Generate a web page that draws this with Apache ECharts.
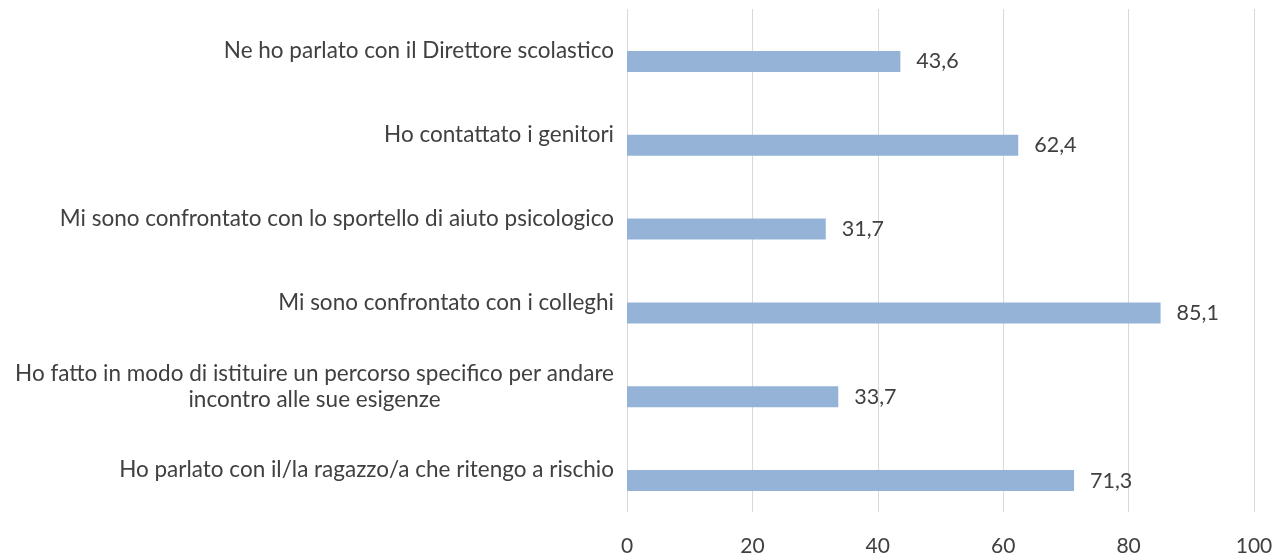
<!DOCTYPE html>
<html>
<head>
<meta charset="utf-8">
<script src="https://cdn.jsdelivr.net/npm/echarts@6/dist/echarts.min.js"></script>
<style>html,body{margin:0;padding:0;background:#fff}#c{width:1276px;height:557px}</style>
</head>
<body>
<div id="c"></div>
<script>
var categories = [
  "Ne ho parlato con il Direttore scolastico",
  "Ho contattato i genitori",
  "Mi sono confrontato con lo sportello di aiuto psicologico",
  "Mi sono confrontato con i colleghi",
  "Ho fatto in modo di istituire un percorso specifico per andare\nincontro alle sue esigenze",
  "Ho parlato con il/la ragazzo/a che ritengo a rischio"
];
var values = [43.6, 62.4, 31.7, 85.1, 33.7, 71.3];
var xTicks = [0, 20, 40, 60, 80, 100];

var chart = echarts.init(document.getElementById('c'));
chart.setOption({
  animation: false,
  textStyle: {fontFamily: 'Lato'},
  grid: {left: 627, right: 22, top: 9, bottom: 45, containLabel: false},
  xAxis: {
    type: 'value', min: xTicks[0], max: xTicks[xTicks.length - 1], interval: 20,
    axisLine: {show: false}, axisTick: {show: false},
    splitLine: {lineStyle: {color: '#d9d9d9', width: 1}},
    axisLabel: {fontSize: 21, color: '#404040', margin: 24, fontFamily: 'Lato'}
  },
  yAxis: {
    type: 'category', data: categories, inverse: true,
    axisLine: {show: false}, axisTick: {show: false},
    axisLabel: {
      fontSize: 22.5, color: '#404040', margin: 13, fontFamily: 'Lato',
      formatter: function (v) {
        return v.split('\n').map(function (l) { return '{a|' + l + '}'; }).join('\n');
      },
      rich: {a: {align: 'center', fontSize: 22.5, color: '#404040', fontFamily: 'Lato', lineHeight: 26}}
    }
  },
  series: [
    {type: 'bar', data: values.map(function () { return '-'; }), barWidth: 21, barGap: '0%', silent: true},
    {type: 'bar', data: values, barWidth: 21, barGap: '0%',
      itemStyle: {color: '#95b3d7'},
      label: {show: true, position: 'right', distance: 16, fontSize: 21.5, color: '#404040', fontFamily: 'Lato',
        formatter: function (p) { return p.value.toFixed(1).replace('.', ','); }}
    }
  ]
});
</script>
</body>
</html>
